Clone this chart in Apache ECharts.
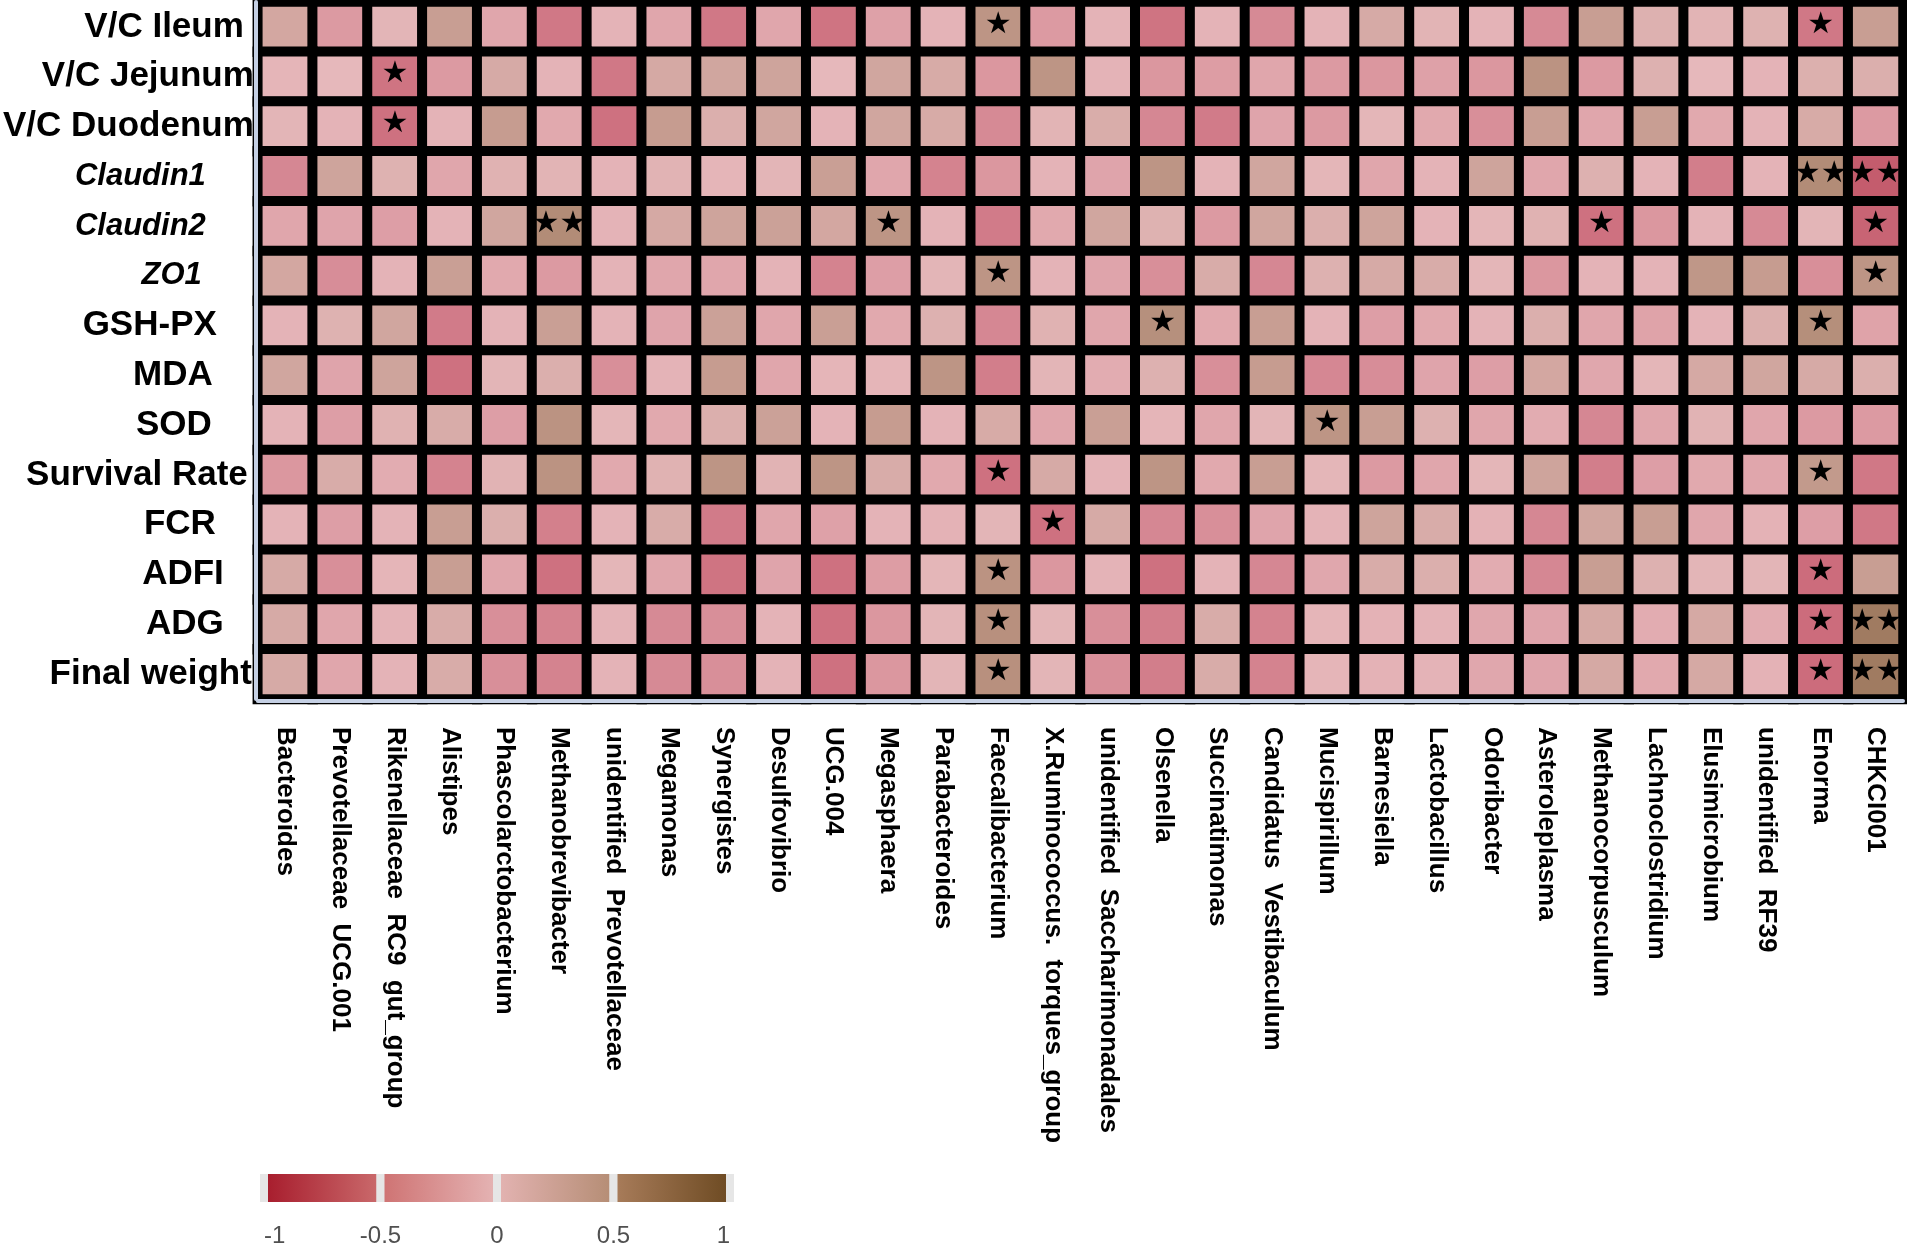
<!DOCTYPE html>
<html>
<head>
<meta charset="utf-8">
<title>Genus vs trait correlation heatmap</title>
<script src="https://cdn.jsdelivr.net/npm/echarts@6/dist/echarts.min.js"></script>
<style>
    html, body { margin: 0; padding: 0; background: #fff; }
    #chart { width: 1907px; height: 1249px; }
</style>
</head>
<body>
<div id="chart"></div>
<script>
// rows, top to bottom
let traitNames = [
    'V/C Ileum', 'V/C Jejunum', 'V/C Duodenum', 'Claudin1', 'Claudin2', 'ZO1',
    'GSH-PX', 'MDA', 'SOD', 'Survival Rate', 'FCR', 'ADFI', 'ADG', 'Final weight'
];

let genusNames = [
    'Bacteroides', 'Prevotellaceae  UCG.001', 'Rikenellaceae  RC9  gut_group', 'Alistipes',
    'Phascolarctobacterium', 'Methanobrevibacter', 'unidentified  Prevotellaceae', 'Megamonas',
    'Synergistes', 'Desulfovibrio', 'UCG.004', 'Megasphaera', 'Parabacteroides', 'Faecalibacterium',
    'X.Ruminococcus.  torques_group', 'unidentified  Saccharimonadales', 'Olsenella', 'Succinatimonas',
    'Candidatus  Vestibaculum', 'Mucispirillum', 'Barnesiella', 'Lactobacillus', 'Odoribacter',
    'Asteroleplasma', 'Methanocorpusculum', 'Lachnoclostridium', 'Elusimicrobium', 'unidentified  RF39',
    'Enorma', 'CHKCI001'
];

// correlation per trait (one value per genus)
let vcIleum = [0.18, -0.2, 0.03, 0.28, -0.12, -0.42, -0.03, -0.12, -0.42, -0.12, -0.45, -0.15, -0.03, 0.38, -0.2, -0.03, -0.45, -0.03, -0.3, -0.03, 0.15, 0.04, -0.03, -0.3, 0.28, 0.08, 0.04, 0.07, -0.42, 0.28];
let vcJejunum = [-0.02, 0.0, -0.45, -0.2, 0.15, -0.03, -0.42, 0.16, 0.2, 0.22, 0.0, 0.2, 0.14, -0.22, 0.38, -0.03, -0.22, -0.18, -0.12, -0.2, -0.22, -0.15, -0.22, 0.4, -0.2, 0.08, 0.0, -0.03, 0.09, 0.1];
let vcDuodenum = [0.03, -0.03, -0.47, -0.03, 0.3, -0.1, -0.47, 0.3, 0.1, 0.2, -0.03, 0.2, 0.14, -0.3, 0.04, 0.12, -0.32, -0.4, -0.13, -0.2, 0.02, -0.1, -0.27, 0.28, -0.12, 0.28, -0.1, -0.03, 0.14, -0.2];
let claudin1 = [-0.32, 0.22, 0.07, -0.12, 0.06, 0.04, -0.03, 0.05, -0.02, 0.03, 0.27, -0.12, -0.35, -0.22, -0.03, -0.13, 0.38, -0.03, 0.2, 0.02, -0.12, -0.03, 0.22, -0.12, 0.08, -0.03, -0.38, -0.03, 0.48, -0.6];
let claudin2 = [-0.12, -0.13, -0.17, -0.03, 0.2, 0.48, -0.03, 0.16, 0.22, 0.25, 0.18, 0.38, -0.03, -0.4, -0.1, 0.2, 0.07, -0.2, 0.2, 0.1, 0.22, -0.03, 0.02, 0.06, -0.47, -0.22, -0.03, -0.3, 0.03, -0.55];
let zo1 = [0.18, -0.28, -0.03, 0.27, -0.1, -0.2, -0.03, -0.12, -0.12, -0.03, -0.35, -0.17, 0.03, 0.38, -0.03, -0.13, -0.27, 0.13, -0.32, 0.08, 0.15, 0.13, 0.02, -0.22, -0.03, -0.03, 0.36, 0.3, -0.27, 0.38];
let gshPx = [-0.03, 0.07, 0.2, -0.4, -0.03, 0.27, -0.03, -0.13, 0.25, -0.12, 0.27, -0.1, 0.08, -0.32, 0.06, -0.12, 0.44, -0.1, 0.28, -0.03, -0.17, -0.1, -0.03, 0.1, -0.12, -0.14, -0.03, 0.1, 0.45, -0.14];
let mda = [0.2, -0.13, 0.22, -0.47, 0.03, 0.1, -0.27, -0.03, 0.3, -0.12, -0.02, -0.02, 0.38, -0.38, 0.03, -0.08, 0.08, -0.27, 0.3, -0.32, -0.28, -0.13, -0.17, 0.18, -0.11, 0.02, 0.16, 0.2, 0.15, 0.1];
let sod = [-0.03, -0.17, 0.06, 0.13, -0.17, 0.4, 0.02, -0.1, 0.1, 0.25, -0.03, 0.3, -0.03, 0.14, -0.12, 0.27, -0.02, -0.12, 0.03, 0.38, 0.28, 0.08, -0.12, -0.08, -0.32, -0.12, 0.05, -0.12, -0.2, -0.2];
let survivalRate = [-0.22, 0.13, -0.08, -0.35, 0.05, 0.4, -0.1, 0.06, 0.38, 0.05, 0.38, 0.13, -0.1, -0.47, 0.15, -0.03, 0.38, -0.1, 0.28, 0.02, -0.2, -0.12, 0.02, 0.22, -0.38, -0.17, -0.1, -0.12, 0.33, -0.42];
let fcr = [-0.03, -0.17, -0.03, 0.28, 0.1, -0.37, -0.03, 0.13, -0.4, -0.12, -0.15, -0.03, -0.04, 0.03, -0.47, 0.15, -0.32, -0.27, -0.13, -0.03, 0.22, 0.13, -0.04, -0.32, 0.2, 0.28, -0.12, -0.04, -0.17, -0.42];
let adfi = [0.15, -0.27, -0.02, 0.28, -0.12, -0.47, 0.02, -0.12, -0.45, -0.13, -0.47, -0.18, 0.02, 0.4, -0.22, -0.03, -0.47, -0.03, -0.32, -0.11, 0.13, 0.1, -0.08, -0.32, 0.28, 0.08, 0.03, 0.03, -0.5, 0.28];
let adg = [0.15, -0.12, -0.03, 0.13, -0.27, -0.35, -0.03, -0.3, -0.27, -0.03, -0.47, -0.22, 0.03, 0.43, 0.03, -0.27, -0.38, 0.13, -0.35, -0.02, -0.04, -0.03, -0.11, -0.13, 0.16, -0.08, 0.16, -0.08, -0.5, 0.62];
let finalWeight = [0.15, -0.12, -0.03, 0.13, -0.27, -0.35, -0.03, -0.3, -0.27, -0.03, -0.47, -0.22, 0.03, 0.43, 0.03, -0.27, -0.38, 0.13, -0.35, -0.02, -0.04, -0.03, -0.11, -0.13, 0.16, -0.1, 0.16, -0.04, -0.5, 0.62];

let corr = [vcIleum, vcJejunum, vcDuodenum, claudin1, claudin2, zo1, gshPx, mda, sod,
    survivalRate, fcr, adfi, adg, finalWeight];

// significance marks: [trait row, genus column, mark]
let starMarks = [
    [0, 13, '★'], [0, 28, '★'],
    [1, 2, '★'], [2, 2, '★'],
    [3, 28, '★★'], [3, 29, '★★'],
    [4, 5, '★★'], [4, 11, '★'], [4, 24, '★'], [4, 29, '★'],
    [5, 13, '★'], [5, 29, '★'],
    [6, 16, '★'], [6, 28, '★'],
    [8, 19, '★'],
    [9, 13, '★'], [9, 28, '★'],
    [10, 14, '★'],
    [11, 13, '★'], [11, 28, '★'],
    [12, 13, '★'], [12, 28, '★'], [12, 29, '★★'],
    [13, 13, '★'], [13, 28, '★'], [13, 29, '★★']
];

// colour key
let legendSegments = [[-1, -0.5], [-0.5, 0], [0, 0.5], [0.5, 1]];

let cellColors = ['#A51C30', '#CC6C7C', '#E6B8BB', '#B08A74', '#6E4A24'];
let legendColors = [
    ['#A81E2E', '#C9686A'], ['#CF7474', '#E4B2B2'],
    ['#E2B2B0', '#B68E76'], ['#A77B59', '#6F4C24']
];

// the row labels in the figure are not aligned the same way
let labelPad = [10, 0, 0, 48, 48, 52, 37, 41, 42, 6, 38, 30, 30, 2];
let italicRows = ['Claudin1', 'Claudin2', 'ZO1'];

let sansFont = "'Liberation Sans', Arial, sans-serif";
let narrowFont = "'Liberation Sans Narrow', 'Liberation Sans', Arial, sans-serif";
let frameColor = '#C5D0E4';

let starAt = {};
starMarks.forEach(s => {
    starAt[s[0] + '_' + s[1]] = s[2];
});

let cells = [];
corr.forEach((row, r) => {
    row.forEach((v, c) => {
        cells.push([c, r, v, starAt[r + '_' + c] || '']);
    });
});

let rich = {};
traitNames.forEach((name, i) => {
    let italic = italicRows.indexOf(name) >= 0;
    rich['r' + i] = {
        fontSize: italic ? 31 : 35,
        fontWeight: 'bold',
        fontStyle: italic ? 'italic' : 'normal',
        fontFamily: sansFont,
        color: '#000',
        padding: [0, labelPad[i], 0, 0]
    };
});

let chart = echarts.init(document.getElementById('chart'));

chart.setOption({
    animation: false,
    backgroundColor: '#fff',
    grid: [
        {
            left: 255, top: 2, width: 1648, height: 697,
            show: true, backgroundColor: '#000', borderWidth: 0
        },
        {
            left: 264, top: 1174, width: 466, height: 28,
            show: false
        }
    ],
    xAxis: [
        {
            type: 'category',
            gridIndex: 0,
            data: genusNames,
            z: 10,
            offset: 2,
            axisLine: { show: true, lineStyle: { color: frameColor, width: 4 } },
            axisTick: { show: false },
            splitLine: { show: false },
            axisLabel: {
                rotate: -90,
                interval: 0,
                margin: 26,
                fontSize: 26,
                fontWeight: 'bold',
                fontFamily: sansFont,
                color: '#000'
            }
        },
        {
            type: 'value',
            gridIndex: 1,
            min: -1,
            max: 1,
            interval: 0.5,
            axisLine: { show: false },
            axisTick: { show: false },
            splitLine: { show: false },
            axisLabel: {
                margin: 22,
                fontSize: 24,
                fontFamily: narrowFont,
                color: '#505050',
                alignMinLabel: 'left',
                alignMaxLabel: 'right',
                formatter: v => String(v)
            }
        }
    ],
    yAxis: [
        {
            type: 'category',
            gridIndex: 0,
            data: traitNames,
            inverse: true,
            z: 10,
            offset: 2,
            axisLine: { show: true, lineStyle: { color: frameColor, width: 4 } },
            axisTick: { show: false },
            splitLine: { show: false },
            axisLabel: {
                margin: 2,
                formatter: (v, i) => '{r' + i + '|' + v + '}',
                rich: rich
            }
        },
        {
            type: 'value',
            gridIndex: 1,
            min: 0,
            max: 1,
            show: false
        }
    ],
    visualMap: {
        type: 'continuous',
        show: false,
        min: -1,
        max: 1,
        dimension: 2,
        seriesIndex: 0,
        inRange: { color: cellColors }
    },
    series: [
        {
            type: 'heatmap',
            xAxisIndex: 0,
            yAxisIndex: 0,
            data: cells,
            itemStyle: { borderColor: '#000', borderWidth: 10 },
            label: {
                show: true,
                formatter: p => p.data[3],
                color: '#000',
                fontSize: 30,
                offset: [0, -2],
                fontFamily: "'DejaVu Sans', sans-serif"
            },
            emphasis: { disabled: true }
        },
        {
            type: 'custom',
            xAxisIndex: 1,
            yAxisIndex: 1,
            data: legendSegments.map((s, i) => [s[0], s[1], i]),
            encode: { x: [0, 1] },
            silent: true,
            renderItem: (params, api) => {
                let a = api.value(0);
                let b = api.value(1);
                let k = api.value(2);
                let p0 = api.coord([a, 1]);
                let p1 = api.coord([b, 0]);
                let h = p1[1] - p0[1];

                return {
                    type: 'group',
                    children: [
                        {
                            type: 'rect',
                            shape: { x: p0[0] - 4, y: p0[1], width: p1[0] - p0[0] + 8, height: h },
                            style: { fill: '#E6E6E6' }
                        },
                        {
                            type: 'rect',
                            shape: { x: p0[0] + 4, y: p0[1], width: p1[0] - p0[0] - 8, height: h },
                            style: {
                                fill: new echarts.graphic.LinearGradient(0, 0, 1, 0, [
                                    { offset: 0, color: legendColors[k][0] },
                                    { offset: 1, color: legendColors[k][1] }
                                ])
                            }
                        }
                    ]
                };
            }
        }
    ]
});
</script>
</body>
</html>
